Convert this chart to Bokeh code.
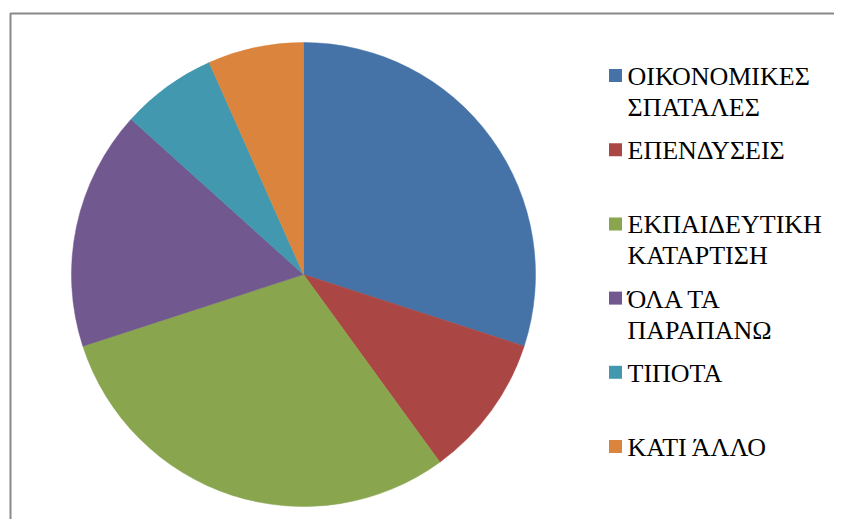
import math
from bokeh.plotting import figure
from bokeh.models import Range1d, ColumnDataSource
from bokeh.core.properties import value
from bokeh.embed import file_html
from bokeh.resources import INLINE

categories = ["ΟΙΚΟΝΟΜΙΚΕΣ\nΣΠΑΤΑΛΕΣ", "ΕΠΕΝΔΥΣΕΙΣ", "ΕΚΠΑΙΔΕΥΤΙΚΗ\nΚΑΤΑΡΤΙΣΗ",
              "ΌΛΑ ΤΑ\nΠΑΡΑΠΑΝΩ", "ΤΙΠΟΤΑ", "ΚΑΤΙ ΆΛΛΟ"]
counts = [9, 3, 9, 5, 2, 2]
colors = ["#4572A7", "#AA4643", "#89A54E", "#71588F", "#4198AF", "#DB843D"]

W, H = 834, 519
p = figure(width=W, height=H, output_backend="svg", toolbar_location=None,
           x_range=Range1d(0, W), y_range=Range1d(0, H), min_border=0)
p.axis.visible = False
p.grid.visible = False
p.outline_line_color = None
p.background_fill_color = "white"
p.border_fill_color = "white"

# chart frame (only left and top edges visible in the window)
p.line(x=[10, 10, W + 50], y=[-50, H - 13, H - 13], line_color="#898989", line_width=2)

cx, cy, r = 303, 245, 232
total = sum(counts)
starts, ends = [], []
acc = 0
for c in counts:
    starts.append(math.pi / 2 - 2 * math.pi * acc / total)
    acc += c
    ends.append(math.pi / 2 - 2 * math.pi * acc / total)

src = ColumnDataSource(dict(start=starts, end=ends, color=colors))
p.wedge(x=cx, y=cy, radius=r, start_angle="start", end_angle="end",
        direction="clock", fill_color="color", line_color="color", line_width=0.5,
        source=src)

# legend
sq_x, tx = 615, 627
y0, step = 444, 74.2
line_h = 31
font = value("Liberation Serif")
for i, (lab, col) in enumerate(zip(categories, colors)):
    yc = y0 - i * step
    p.scatter(x=[sq_x], y=[yc], marker="square", size=13, fill_color=col, line_color=None)
    for j, part in enumerate(lab.split("\n")):
        p.text(x=[tx], y=[yc - 1 - j * line_h], text=[part],
               text_font=font, text_font_size="26px",
               text_color="#000000", text_baseline="alphabetic", text_align="left")

open("out.html", "w").write(file_html(p, INLINE))
